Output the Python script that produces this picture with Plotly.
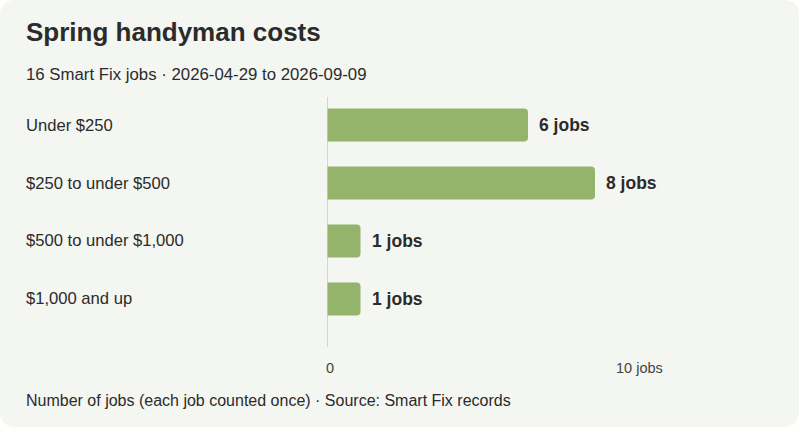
import plotly.graph_objects as go

categories = ["Under $250", "$250 to under $500", "$500 to under $1,000", "$1,000 and up"]
jobs = [6, 8, 1, 1]
value_labels = ["6 jobs", "8 jobs", "1 jobs", "1 jobs"]
tick_values = [0, 10]
tick_labels = ["0", "10 jobs"]

title = "Spring handyman costs"
subtitle = "16 Smart Fix jobs · 2026-04-29 to 2026-09-09"
footer = "Number of jobs (each job counted once) · Source: Smart Fix records"

W, H = 800, 428
L, R, T, B = 327, 138, 97, 81
PW, PH = W - L - R, H - T - B

def px(x):
    return (x - L) / PW

def py(y):
    return (H - B - y) / PH

FONT = "Liberation Sans, Arial, sans-serif"
BAR = "#94b46c"
CARD = "#f4f6f1"
TXT = "#2b2b2b"

fig = go.Figure()
fig.add_trace(go.Bar(
    x=jobs, y=categories, orientation="h",
    marker=dict(color=BAR, cornerradius=4, line=dict(width=0)),
    width=0.57, hoverinfo="skip",
))

ann = []
for c, v, lab in zip(categories, jobs, value_labels):
    ann.append(dict(x=v, y=c, xref="x", yref="y", text=f"<b>{lab}</b>", showarrow=False,
                    xanchor="left", xshift=9, font=dict(size=17.5, color=TXT, family=FONT)))
    ann.append(dict(x=px(26), y=c, xref="paper", yref="y", text=c, showarrow=False,
                    xanchor="left", xshift=-2, font=dict(size=16.6, color=TXT, family=FONT)))
for tv, tl in zip(tick_values, tick_labels):
    ann.append(dict(x=tv, y=py(368), xref="x", yref="paper", text=tl, showarrow=False,
                    xanchor="left" if tv == 0 else "right", yanchor="middle",
                    xshift=-3 if tv == 0 else 3,
                    font=dict(size=14.5, color="#444444", family=FONT)))
ann.append(dict(x=px(26), y=py(32), xref="paper", yref="paper", text=f"<b>{title}</b>",
                showarrow=False, xanchor="left", yanchor="middle", xshift=-2,
                font=dict(size=26, color=TXT, family=FONT)))
ann.append(dict(x=px(26), y=py(75), xref="paper", yref="paper", text=subtitle,
                showarrow=False, xanchor="left", yanchor="middle", xshift=-2,
                font=dict(size=16.8, color=TXT, family=FONT)))
ann.append(dict(x=px(26), y=py(400), xref="paper", yref="paper", text=footer,
                showarrow=False, xanchor="left", yanchor="middle", xshift=-2,
                font=dict(size=16, color=TXT, family=FONT)))

# rounded card background
r = 16
x0, x1, y0, y1 = 0, W - 1, 0, H - 1
path = (f"M {px(x0 + r)} {py(y0)} L {px(x1 - r)} {py(y0)} "
        f"Q {px(x1)} {py(y0)} {px(x1)} {py(y0 + r)} L {px(x1)} {py(y1 - r)} "
        f"Q {px(x1)} {py(y1)} {px(x1 - r)} {py(y1)} L {px(x0 + r)} {py(y1)} "
        f"Q {px(x0)} {py(y1)} {px(x0)} {py(y1 - r)} L {px(x0)} {py(y0 + r)} "
        f"Q {px(x0)} {py(y0)} {px(x0 + r)} {py(y0)} Z")
shapes = [
    dict(type="path", path=path, xref="paper", yref="paper", fillcolor=CARD,
         line=dict(width=0), layer="below"),
    dict(type="line", x0=0, x1=0, y0=0, y1=1, xref="x", yref="paper",
         line=dict(color="#c8cac3", width=1.5), layer="above"),
]

fig.update_layout(
    width=W, height=H,
    margin=dict(l=L, r=R, t=T, b=B),
    paper_bgcolor="white", plot_bgcolor="rgba(0,0,0,0)",
    showlegend=False,
    xaxis=dict(range=[0, 10], showgrid=False, zeroline=False, showticklabels=False,
               showline=False, fixedrange=True),
    yaxis=dict(categoryorder="array", categoryarray=categories,
               range=[3.828, -0.483], showgrid=False, zeroline=False,
               showticklabels=False, showline=False, fixedrange=True),
    annotations=ann, shapes=shapes,
    font=dict(family=FONT),
)

fig.write_html("out.html", config={"displayModeBar": False},
               post_script="document.body.style.margin='0';document.body.style.overflow='hidden';")
